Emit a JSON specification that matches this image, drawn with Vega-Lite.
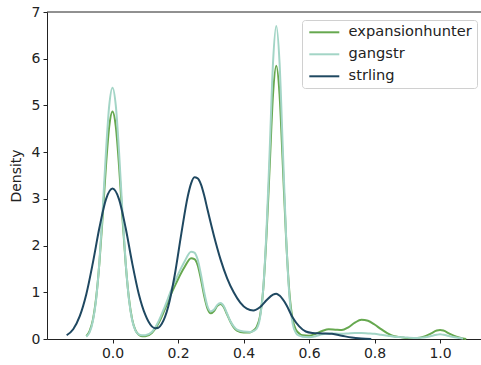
{
  "$schema": "https://vega.github.io/schema/vega-lite/v6.json",
  "width": 434,
  "height": 327,
  "autosize": {"type": "none"},
  "padding": {"left": 47, "top": 12, "right": 0, "bottom": 26},
  "config": {
    "view": {"stroke": null},
    "font": "DejaVu Sans",
    "axis": {"grid": false, "domainColor": "#222", "tickColor": "#222", "labelColor": "#222", "titleColor": "#222", "labelFontSize": 14, "titleFontSize": 14, "titleFontWeight": "normal", "tickSize": 4, "labelPadding": 3, "labelFont": "DejaVu Sans", "titleFont": "DejaVu Sans"}
  },
  "datasets": {
    "kde": [
      {"x": -0.08, "y": 0.06, "series": "expansionhunter"},
      {"x": -0.07, "y": 0.17, "series": "expansionhunter"},
      {"x": -0.06, "y": 0.41, "series": "expansionhunter"},
      {"x": -0.05, "y": 0.88, "series": "expansionhunter"},
      {"x": -0.04, "y": 1.63, "series": "expansionhunter"},
      {"x": -0.03, "y": 2.63, "series": "expansionhunter"},
      {"x": -0.02, "y": 3.70, "series": "expansionhunter"},
      {"x": -0.01, "y": 4.55, "series": "expansionhunter"},
      {"x": 0.00, "y": 4.87, "series": "expansionhunter"},
      {"x": 0.01, "y": 4.55, "series": "expansionhunter"},
      {"x": 0.02, "y": 3.70, "series": "expansionhunter"},
      {"x": 0.03, "y": 2.63, "series": "expansionhunter"},
      {"x": 0.04, "y": 1.63, "series": "expansionhunter"},
      {"x": 0.05, "y": 0.88, "series": "expansionhunter"},
      {"x": 0.06, "y": 0.42, "series": "expansionhunter"},
      {"x": 0.07, "y": 0.19, "series": "expansionhunter"},
      {"x": 0.08, "y": 0.09, "series": "expansionhunter"},
      {"x": 0.09, "y": 0.06, "series": "expansionhunter"},
      {"x": 0.10, "y": 0.06, "series": "expansionhunter"},
      {"x": 0.12, "y": 0.13, "series": "expansionhunter"},
      {"x": 0.14, "y": 0.33, "series": "expansionhunter"},
      {"x": 0.16, "y": 0.64, "series": "expansionhunter"},
      {"x": 0.18, "y": 0.98, "series": "expansionhunter"},
      {"x": 0.20, "y": 1.28, "series": "expansionhunter"},
      {"x": 0.22, "y": 1.54, "series": "expansionhunter"},
      {"x": 0.24, "y": 1.73, "series": "expansionhunter"},
      {"x": 0.25, "y": 1.71, "series": "expansionhunter"},
      {"x": 0.26, "y": 1.58, "series": "expansionhunter"},
      {"x": 0.27, "y": 1.28, "series": "expansionhunter"},
      {"x": 0.28, "y": 0.92, "series": "expansionhunter"},
      {"x": 0.29, "y": 0.65, "series": "expansionhunter"},
      {"x": 0.30, "y": 0.55, "series": "expansionhunter"},
      {"x": 0.31, "y": 0.60, "series": "expansionhunter"},
      {"x": 0.32, "y": 0.71, "series": "expansionhunter"},
      {"x": 0.33, "y": 0.75, "series": "expansionhunter"},
      {"x": 0.34, "y": 0.68, "series": "expansionhunter"},
      {"x": 0.35, "y": 0.52, "series": "expansionhunter"},
      {"x": 0.36, "y": 0.37, "series": "expansionhunter"},
      {"x": 0.37, "y": 0.25, "series": "expansionhunter"},
      {"x": 0.38, "y": 0.18, "series": "expansionhunter"},
      {"x": 0.40, "y": 0.14, "series": "expansionhunter"},
      {"x": 0.42, "y": 0.14, "series": "expansionhunter"},
      {"x": 0.43, "y": 0.18, "series": "expansionhunter"},
      {"x": 0.44, "y": 0.26, "series": "expansionhunter"},
      {"x": 0.45, "y": 0.48, "series": "expansionhunter"},
      {"x": 0.46, "y": 1.05, "series": "expansionhunter"},
      {"x": 0.47, "y": 2.20, "series": "expansionhunter"},
      {"x": 0.48, "y": 3.72, "series": "expansionhunter"},
      {"x": 0.49, "y": 5.23, "series": "expansionhunter"},
      {"x": 0.50, "y": 5.85, "series": "expansionhunter"},
      {"x": 0.51, "y": 5.23, "series": "expansionhunter"},
      {"x": 0.52, "y": 3.72, "series": "expansionhunter"},
      {"x": 0.53, "y": 2.15, "series": "expansionhunter"},
      {"x": 0.54, "y": 1.00, "series": "expansionhunter"},
      {"x": 0.55, "y": 0.42, "series": "expansionhunter"},
      {"x": 0.56, "y": 0.20, "series": "expansionhunter"},
      {"x": 0.57, "y": 0.12, "series": "expansionhunter"},
      {"x": 0.58, "y": 0.08, "series": "expansionhunter"},
      {"x": 0.60, "y": 0.07, "series": "expansionhunter"},
      {"x": 0.62, "y": 0.11, "series": "expansionhunter"},
      {"x": 0.64, "y": 0.17, "series": "expansionhunter"},
      {"x": 0.66, "y": 0.21, "series": "expansionhunter"},
      {"x": 0.68, "y": 0.20, "series": "expansionhunter"},
      {"x": 0.70, "y": 0.19, "series": "expansionhunter"},
      {"x": 0.72, "y": 0.25, "series": "expansionhunter"},
      {"x": 0.74, "y": 0.35, "series": "expansionhunter"},
      {"x": 0.76, "y": 0.41, "series": "expansionhunter"},
      {"x": 0.78, "y": 0.39, "series": "expansionhunter"},
      {"x": 0.80, "y": 0.31, "series": "expansionhunter"},
      {"x": 0.82, "y": 0.21, "series": "expansionhunter"},
      {"x": 0.84, "y": 0.12, "series": "expansionhunter"},
      {"x": 0.86, "y": 0.06, "series": "expansionhunter"},
      {"x": 0.88, "y": 0.04, "series": "expansionhunter"},
      {"x": 0.90, "y": 0.02, "series": "expansionhunter"},
      {"x": 0.93, "y": 0.02, "series": "expansionhunter"},
      {"x": 0.95, "y": 0.05, "series": "expansionhunter"},
      {"x": 0.97, "y": 0.11, "series": "expansionhunter"},
      {"x": 0.99, "y": 0.18, "series": "expansionhunter"},
      {"x": 1.00, "y": 0.19, "series": "expansionhunter"},
      {"x": 1.01, "y": 0.18, "series": "expansionhunter"},
      {"x": 1.03, "y": 0.11, "series": "expansionhunter"},
      {"x": 1.05, "y": 0.05, "series": "expansionhunter"},
      {"x": 1.07, "y": 0.01, "series": "expansionhunter"},
      {"x": 1.08, "y": 0.00, "series": "expansionhunter"},

      {"x": -0.08, "y": 0.05, "series": "gangstr"},
      {"x": -0.07, "y": 0.14, "series": "gangstr"},
      {"x": -0.06, "y": 0.38, "series": "gangstr"},
      {"x": -0.05, "y": 0.85, "series": "gangstr"},
      {"x": -0.04, "y": 1.65, "series": "gangstr"},
      {"x": -0.03, "y": 2.76, "series": "gangstr"},
      {"x": -0.02, "y": 4.00, "series": "gangstr"},
      {"x": -0.01, "y": 5.00, "series": "gangstr"},
      {"x": 0.00, "y": 5.38, "series": "gangstr"},
      {"x": 0.01, "y": 5.00, "series": "gangstr"},
      {"x": 0.02, "y": 4.00, "series": "gangstr"},
      {"x": 0.03, "y": 2.76, "series": "gangstr"},
      {"x": 0.04, "y": 1.65, "series": "gangstr"},
      {"x": 0.05, "y": 0.86, "series": "gangstr"},
      {"x": 0.06, "y": 0.40, "series": "gangstr"},
      {"x": 0.07, "y": 0.18, "series": "gangstr"},
      {"x": 0.08, "y": 0.10, "series": "gangstr"},
      {"x": 0.09, "y": 0.08, "series": "gangstr"},
      {"x": 0.10, "y": 0.08, "series": "gangstr"},
      {"x": 0.12, "y": 0.15, "series": "gangstr"},
      {"x": 0.14, "y": 0.37, "series": "gangstr"},
      {"x": 0.16, "y": 0.70, "series": "gangstr"},
      {"x": 0.18, "y": 1.06, "series": "gangstr"},
      {"x": 0.20, "y": 1.38, "series": "gangstr"},
      {"x": 0.22, "y": 1.66, "series": "gangstr"},
      {"x": 0.24, "y": 1.87, "series": "gangstr"},
      {"x": 0.25, "y": 1.85, "series": "gangstr"},
      {"x": 0.26, "y": 1.70, "series": "gangstr"},
      {"x": 0.27, "y": 1.38, "series": "gangstr"},
      {"x": 0.28, "y": 1.00, "series": "gangstr"},
      {"x": 0.29, "y": 0.70, "series": "gangstr"},
      {"x": 0.30, "y": 0.59, "series": "gangstr"},
      {"x": 0.31, "y": 0.63, "series": "gangstr"},
      {"x": 0.32, "y": 0.73, "series": "gangstr"},
      {"x": 0.33, "y": 0.77, "series": "gangstr"},
      {"x": 0.34, "y": 0.70, "series": "gangstr"},
      {"x": 0.35, "y": 0.54, "series": "gangstr"},
      {"x": 0.36, "y": 0.38, "series": "gangstr"},
      {"x": 0.37, "y": 0.27, "series": "gangstr"},
      {"x": 0.38, "y": 0.20, "series": "gangstr"},
      {"x": 0.40, "y": 0.16, "series": "gangstr"},
      {"x": 0.42, "y": 0.15, "series": "gangstr"},
      {"x": 0.43, "y": 0.17, "series": "gangstr"},
      {"x": 0.44, "y": 0.22, "series": "gangstr"},
      {"x": 0.45, "y": 0.44, "series": "gangstr"},
      {"x": 0.46, "y": 1.06, "series": "gangstr"},
      {"x": 0.47, "y": 2.30, "series": "gangstr"},
      {"x": 0.48, "y": 4.06, "series": "gangstr"},
      {"x": 0.49, "y": 5.91, "series": "gangstr"},
      {"x": 0.50, "y": 6.70, "series": "gangstr"},
      {"x": 0.51, "y": 5.91, "series": "gangstr"},
      {"x": 0.52, "y": 4.06, "series": "gangstr"},
      {"x": 0.53, "y": 2.20, "series": "gangstr"},
      {"x": 0.54, "y": 0.93, "series": "gangstr"},
      {"x": 0.55, "y": 0.33, "series": "gangstr"},
      {"x": 0.56, "y": 0.13, "series": "gangstr"},
      {"x": 0.57, "y": 0.07, "series": "gangstr"},
      {"x": 0.58, "y": 0.05, "series": "gangstr"},
      {"x": 0.60, "y": 0.04, "series": "gangstr"},
      {"x": 0.62, "y": 0.06, "series": "gangstr"},
      {"x": 0.64, "y": 0.10, "series": "gangstr"},
      {"x": 0.66, "y": 0.12, "series": "gangstr"},
      {"x": 0.68, "y": 0.12, "series": "gangstr"},
      {"x": 0.70, "y": 0.11, "series": "gangstr"},
      {"x": 0.72, "y": 0.12, "series": "gangstr"},
      {"x": 0.74, "y": 0.13, "series": "gangstr"},
      {"x": 0.76, "y": 0.13, "series": "gangstr"},
      {"x": 0.78, "y": 0.12, "series": "gangstr"},
      {"x": 0.80, "y": 0.11, "series": "gangstr"},
      {"x": 0.82, "y": 0.09, "series": "gangstr"},
      {"x": 0.84, "y": 0.07, "series": "gangstr"},
      {"x": 0.86, "y": 0.05, "series": "gangstr"},
      {"x": 0.88, "y": 0.04, "series": "gangstr"},
      {"x": 0.90, "y": 0.03, "series": "gangstr"},
      {"x": 0.93, "y": 0.02, "series": "gangstr"},
      {"x": 0.95, "y": 0.03, "series": "gangstr"},
      {"x": 0.97, "y": 0.06, "series": "gangstr"},
      {"x": 0.99, "y": 0.09, "series": "gangstr"},
      {"x": 1.00, "y": 0.10, "series": "gangstr"},
      {"x": 1.01, "y": 0.09, "series": "gangstr"},
      {"x": 1.03, "y": 0.06, "series": "gangstr"},
      {"x": 1.05, "y": 0.03, "series": "gangstr"},
      {"x": 1.07, "y": 0.01, "series": "gangstr"},

      {"x": -0.14, "y": 0.08, "series": "strling"},
      {"x": -0.12, "y": 0.21, "series": "strling"},
      {"x": -0.10, "y": 0.49, "series": "strling"},
      {"x": -0.08, "y": 0.96, "series": "strling"},
      {"x": -0.06, "y": 1.63, "series": "strling"},
      {"x": -0.04, "y": 2.38, "series": "strling"},
      {"x": -0.02, "y": 2.99, "series": "strling"},
      {"x": 0.00, "y": 3.22, "series": "strling"},
      {"x": 0.02, "y": 2.99, "series": "strling"},
      {"x": 0.04, "y": 2.38, "series": "strling"},
      {"x": 0.06, "y": 1.63, "series": "strling"},
      {"x": 0.08, "y": 0.97, "series": "strling"},
      {"x": 0.10, "y": 0.52, "series": "strling"},
      {"x": 0.12, "y": 0.27, "series": "strling"},
      {"x": 0.13, "y": 0.23, "series": "strling"},
      {"x": 0.14, "y": 0.24, "series": "strling"},
      {"x": 0.15, "y": 0.32, "series": "strling"},
      {"x": 0.17, "y": 0.69, "series": "strling"},
      {"x": 0.19, "y": 1.37, "series": "strling"},
      {"x": 0.21, "y": 2.25, "series": "strling"},
      {"x": 0.23, "y": 3.06, "series": "strling"},
      {"x": 0.24, "y": 3.33, "series": "strling"},
      {"x": 0.25, "y": 3.46, "series": "strling"},
      {"x": 0.26, "y": 3.44, "series": "strling"},
      {"x": 0.27, "y": 3.31, "series": "strling"},
      {"x": 0.28, "y": 3.07, "series": "strling"},
      {"x": 0.29, "y": 2.77, "series": "strling"},
      {"x": 0.31, "y": 2.20, "series": "strling"},
      {"x": 0.33, "y": 1.70, "series": "strling"},
      {"x": 0.35, "y": 1.30, "series": "strling"},
      {"x": 0.37, "y": 1.00, "series": "strling"},
      {"x": 0.39, "y": 0.78, "series": "strling"},
      {"x": 0.41, "y": 0.65, "series": "strling"},
      {"x": 0.43, "y": 0.61, "series": "strling"},
      {"x": 0.45, "y": 0.68, "series": "strling"},
      {"x": 0.47, "y": 0.83, "series": "strling"},
      {"x": 0.49, "y": 0.95, "series": "strling"},
      {"x": 0.50, "y": 0.97, "series": "strling"},
      {"x": 0.51, "y": 0.93, "series": "strling"},
      {"x": 0.53, "y": 0.74, "series": "strling"},
      {"x": 0.55, "y": 0.46, "series": "strling"},
      {"x": 0.57, "y": 0.27, "series": "strling"},
      {"x": 0.59, "y": 0.16, "series": "strling"},
      {"x": 0.61, "y": 0.13, "series": "strling"},
      {"x": 0.64, "y": 0.12, "series": "strling"},
      {"x": 0.67, "y": 0.11, "series": "strling"},
      {"x": 0.70, "y": 0.07, "series": "strling"},
      {"x": 0.73, "y": 0.03, "series": "strling"},
      {"x": 0.76, "y": 0.01, "series": "strling"},
      {"x": 0.79, "y": 0.00, "series": "strling"}
    ]
  },
  "layer": [
    {
      "data": {"values": [{"top": 7}]},
      "mark": {"type": "rule", "color": "#222", "strokeWidth": 1},
      "encoding": {
        "y": {"field": "top", "type": "quantitative", "scale": {"domain": [0, 7]}}
      }
    },
    {
      "data": {"name": "kde"},
      "mark": {"type": "line", "interpolate": "monotone", "strokeWidth": 2},
      "encoding": {
        "x": {
          "field": "x", "type": "quantitative",
          "scale": {"domain": [-0.2, 1.125], "nice": false, "zero": false},
          "axis": {"title": null, "values": [0, 0.2, 0.4, 0.6, 0.8, 1.0], "format": ".1f"}
        },
        "y": {
          "field": "y", "type": "quantitative",
          "scale": {"domain": [0, 7], "nice": false},
          "axis": {"title": "Density", "values": [0, 1, 2, 3, 4, 5, 6, 7], "format": "d", "titlePadding": 8}
        },
        "color": {
          "field": "series", "type": "nominal",
          "scale": {"domain": ["expansionhunter", "gangstr", "strling"], "range": ["#66a84f", "#a3d5c6", "#1f4861"]},
          "legend": {
            "title": null, "orient": "none", "legendX": 255, "legendY": 8,
            "symbolType": "M-3,0H3", "symbolSize": 100, "symbolStrokeWidth": 2, "symbolOffset": 10,
            "labelFontSize": 14.6, "labelFont": "DejaVu Sans", "labelColor": "#222", "labelOffset": 17,
            "rowPadding": 7, "padding": 5,
            "fillColor": "white", "strokeColor": "#d0d0d0", "cornerRadius": 3
          }
        }
      }
    }
  ]
}
